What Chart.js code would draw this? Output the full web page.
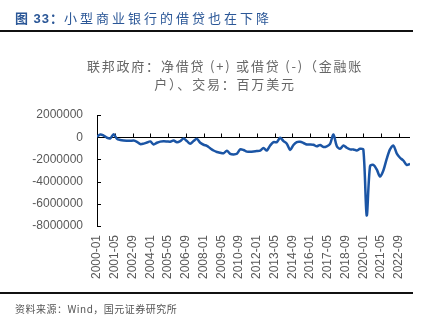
<!DOCTYPE html>
<html>
<head>
<meta charset="utf-8">
<script src="https://cdn.jsdelivr.net/npm/chart.js@4/dist/chart.umd.min.js"></script>
<style>
  html, body { margin: 0; padding: 0; overflow: hidden; background: #fff; }
  #wrap { position: relative; width: 432px; height: 322px; }
  canvas { position: absolute; left: 0; top: 0; }
  .head { position: absolute; left: 15px; top: 8px; line-height: 20px; font-size: 13px; color: #2b5797;
          font-family: 'Noto Sans CJK SC', 'Liberation Sans', sans-serif; letter-spacing: 3px; white-space: nowrap; }
  .head b { font-family: 'Liberation Sans', 'Noto Sans CJK SC', sans-serif; letter-spacing: 1px; }
  .rule { position: absolute; left: 0; width: 413px; height: 2px; background: #111; }
  .sub { position: absolute; left: 18px; width: 414px; top: 57px; line-height: 17.5px; font-size: 13px; color: #666;
         text-align: center; font-family: 'Noto Sans CJK SC', sans-serif; letter-spacing: 1.8px; white-space: nowrap; }
  .src { position: absolute; left: 15px; top: 302px; line-height: 14px; font-size: 10px; color: #555;
         font-family: 'Noto Sans CJK SC', 'Liberation Sans', sans-serif; letter-spacing: 0.5px; white-space: nowrap; }
</style>
</head>
<body>
<div id="wrap">
  <canvas id="loanChart" width="432" height="322"></canvas>
  <div class="head"><b>图 33：</b>小型商业银行的借贷也在下降</div>
  <div class="rule" style="top:30px"></div>
  <div class="sub">联邦政府：净借贷 (+) 或借贷 (-)（金融账<br>户）、交易：百万美元</div>
  <div class="rule" style="top:292px"></div>
  <div class="src">资料来源：Wind，国元证券研究所</div>
</div>
<script>
  // quarterly observations
  const dates = [
    '2000-01', '2000-04', '2000-07', '2000-10', '2001-01', '2001-04', '2001-07', '2001-10',
    '2002-01', '2002-04', '2002-07', '2002-10', '2003-01', '2003-04', '2003-07', '2003-10',
    '2004-01', '2004-04', '2004-07', '2004-10', '2005-01', '2005-04', '2005-07', '2005-10',
    '2006-01', '2006-04', '2006-07', '2006-10', '2007-01', '2007-04', '2007-07', '2007-10',
    '2008-01', '2008-04', '2008-07', '2008-10', '2009-01', '2009-04', '2009-07', '2009-10',
    '2010-01', '2010-04', '2010-07', '2010-10', '2011-01', '2011-04', '2011-07', '2011-10',
    '2012-01', '2012-04', '2012-07', '2012-10', '2013-01', '2013-04', '2013-07', '2013-10',
    '2014-01', '2014-04', '2014-07', '2014-10', '2015-01', '2015-04', '2015-07', '2015-10',
    '2016-01', '2016-04', '2016-07', '2016-10', '2017-01', '2017-04', '2017-07', '2017-10',
    '2018-01', '2018-04', '2018-07', '2018-10', '2019-01', '2019-04', '2019-07', '2019-10',
    '2020-01', '2020-04', '2020-07', '2020-10', '2021-01', '2021-04', '2021-07', '2021-10',
    '2022-01', '2022-04', '2022-07', '2022-10', '2023-01', '2023-04', '2023-07'
  ];
  const netLending = [
    50000, 250000, 150000, -50000,
    -100000, 270000, -150000, -250000,
    -300000, -320000, -330000, -300000,
    -420000, -620000, -580000, -480000,
    -380000, -650000, -500000, -400000,
    -370000, -380000, -400000, -300000,
    -450000, -350000, -120000, -350000,
    -580000, -350000, -150000, -500000,
    -680000, -780000, -1000000, -1200000,
    -1330000, -1400000, -1450000, -1220000,
    -1500000, -1550000, -1500000, -1100000,
    -1150000, -1300000, -1300000, -1280000,
    -1250000, -1200000, -980000, -1200000,
    -750000, -450000, -450000, -50000,
    -350000, -580000, -1150000, -700000,
    -450000, -420000, -520000, -650000,
    -650000, -680000, -820000, -700000,
    -880000, -820000, -600000, 250000,
    -800000, -1050000, -750000, -950000,
    -1100000, -1100000, -1200000, -1050000,
    -1150000, -7050000, -2600000, -2500000,
    -2900000, -3550000, -3000000, -1950000,
    -1100000, -750000, -1450000, -1850000,
    -2100000, -2500000, -2400000
  ];
  const xTickLabels = ['2000-01', '2001-05', '2002-09', '2004-01', '2005-05', '2006-09', '2008-01', '2009-05', '2010-09',
    '2012-01', '2013-05', '2014-09', '2016-01', '2017-05', '2018-09', '2020-01', '2021-05', '2022-09'];
  const yTicks = [2000000, 0, -2000000, -4000000, -6000000, -8000000];

  // months since 2000-01
  const monthIndex = s => (parseInt(s.slice(0, 4)) - 2000) * 12 + parseInt(s.slice(5, 7)) - 1;
  const monthLabel = m => (2000 + Math.floor(m / 12)) + '-' + String(m % 12 + 1).padStart(2, '0');

  // axis line at zero plus the inward tick marks
  const innerAxes = {
    id: 'innerAxes',
    beforeDatasetsDraw(chart) {
      const { ctx, chartArea, scales: { x, y } } = chart;
      const y0 = Math.round(y.getPixelForValue(0)) + 0.5;
      ctx.save();
      ctx.strokeStyle = '#000';
      ctx.lineWidth = 1;
      ctx.beginPath();
      ctx.moveTo(chartArea.left, y0);
      ctx.lineTo(chartArea.right, y0);
      x.ticks.forEach(t => {
        const px = Math.round(x.getPixelForValue(t.value)) + 0.5;
        ctx.moveTo(px, y0);
        ctx.lineTo(px, y0 - 4);
      });
      y.ticks.forEach(t => {
        const py = Math.round(y.getPixelForValue(t.value)) + 0.5;
        ctx.moveTo(chartArea.left, py);
        ctx.lineTo(chartArea.left + 4, py);
      });
      ctx.stroke();
      ctx.restore();
    }
  };

  new Chart(document.getElementById('loanChart').getContext('2d'), {
    type: 'line',
    data: {
      datasets: [{
        data: dates.map((d, i) => ({ x: monthIndex(d), y: netLending[i] })),
        borderColor: '#1b55a5',
        borderWidth: 2.5,
        pointRadius: 0,
        tension: 0.3,
        fill: false
      }]
    },
    options: {
      responsive: false,
      animation: false,
      layout: { padding: { top: 115, right: 22, bottom: 0, left: 0 } },
      plugins: { legend: { display: false }, tooltip: { enabled: false } },
      scales: {
        x: {
          type: 'linear',
          min: 0,
          max: monthIndex(dates[dates.length - 1]),
          afterFit: s => { s.height = 96; },
          afterBuildTicks: s => { s.ticks = xTickLabels.map(l => ({ value: monthIndex(l) })); },
          grid: { display: false, drawTicks: false },
          border: { display: false },
          ticks: {
            autoSkip: false,
            minRotation: 90,
            maxRotation: 90,
            padding: 9,
            color: '#595959',
            font: { size: 12, family: "'Liberation Sans', Arial, sans-serif" },
            callback: v => monthLabel(v)
          }
        },
        y: {
          min: -8000000,
          max: 2000000,
          afterFit: s => { s.width = 97; },
          afterBuildTicks: s => { s.ticks = yTicks.map(v => ({ value: v })); },
          grid: { display: false, drawTicks: false },
          border: { display: true, color: '#000', width: 1 },
          ticks: {
            padding: 14,
            color: '#595959',
            font: { size: 12, family: "'Liberation Sans', Arial, sans-serif" },
            callback: v => String(v)
          }
        }
      }
    },
    plugins: [innerAxes]
  });
</script>
</body>
</html>
